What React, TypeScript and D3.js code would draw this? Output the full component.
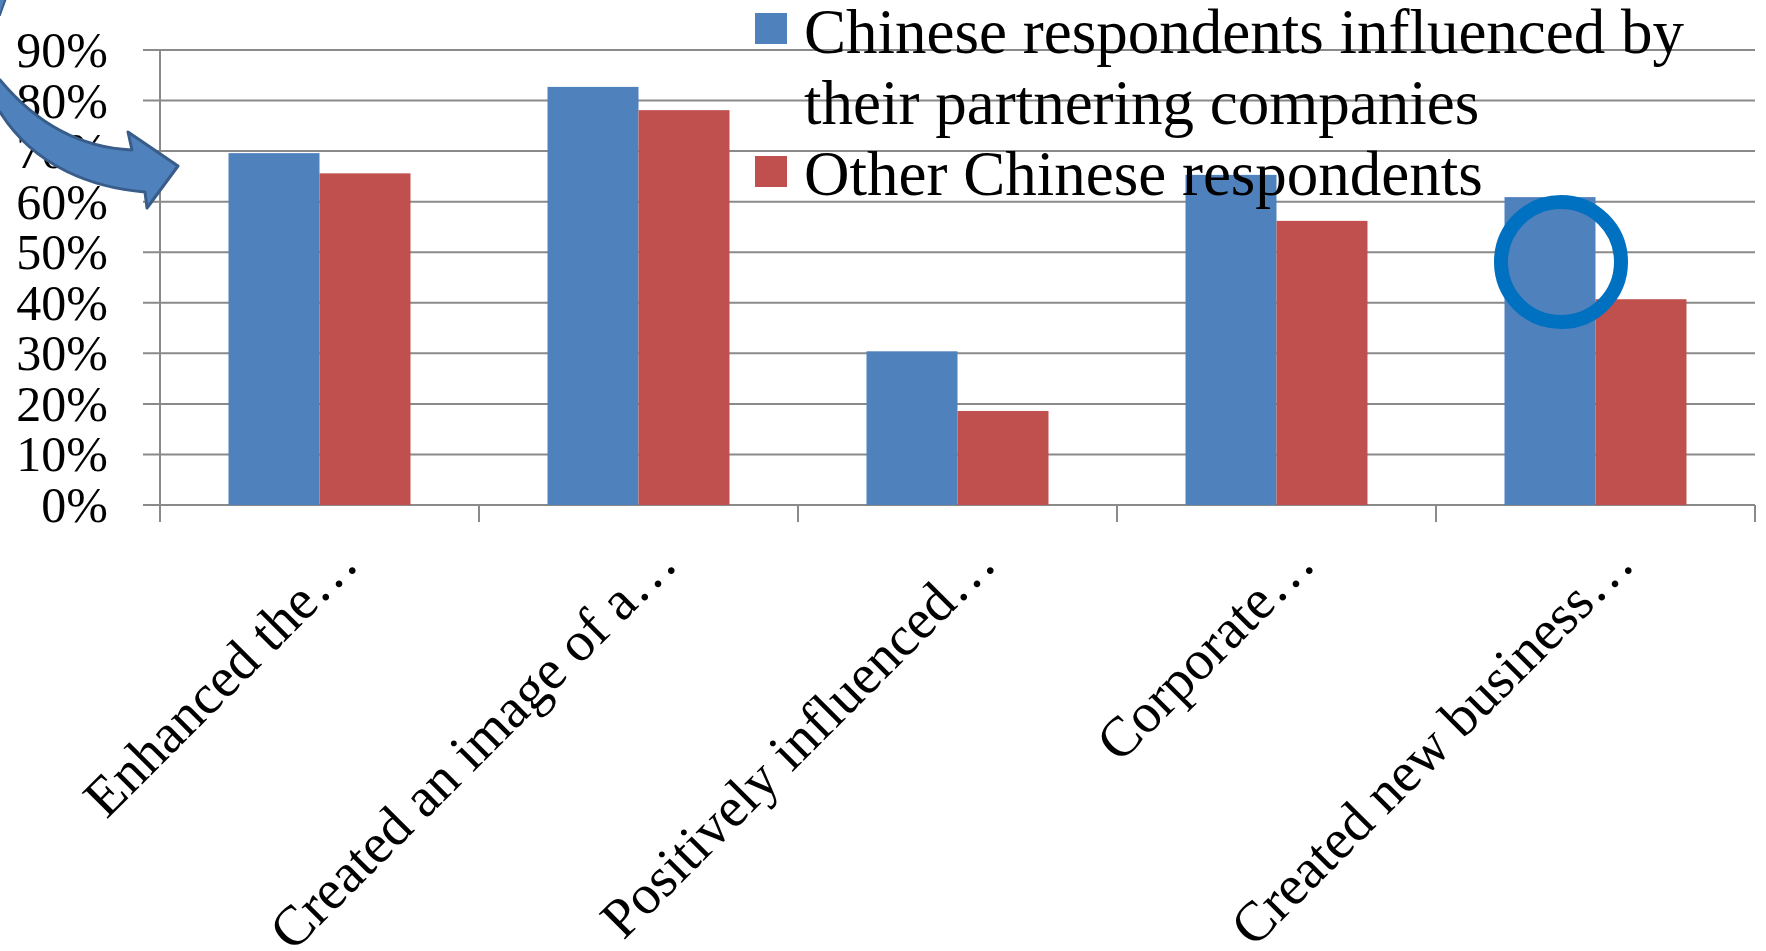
import React from "react";
import * as d3 from "d3";

const categories = [
  "Enhanced the…",
  "Created an image of a…",
  "Positively influenced…",
  "Corporate…",
  "Created new business…",
];
const seriesNames = [
  "Chinese respondents influenced by their partnering companies",
  "Other Chinese respondents",
];
const influencedValues = [0.696, 0.827, 0.304, 0.653, 0.609];
const otherValues = [0.656, 0.781, 0.186, 0.562, 0.407];
const yTicks = [0, 0.1, 0.2, 0.3, 0.4, 0.5, 0.6, 0.7, 0.8, 0.9];
const legendLines = [
  ["Chinese respondents influenced by", "their partnering companies"],
  ["Other Chinese respondents"],
];

const W = 1766;
const H = 951;
const colors = ["#4F81BD", "#C0504D"];
const FONT = "'Liberation Serif', 'Times New Roman', serif";

export default function App() {
  const left = 160;
  const right = 1755;
  const top = 50;
  const bottom = 505;

  const x = d3.scaleBand<string>().domain(categories).range([left, right]).paddingInner(0).paddingOuter(0);
  const inner = d3
    .scaleBand<string>()
    .domain(seriesNames)
    .range([0, x.bandwidth()])
    .paddingInner(0)
    .paddingOuter(0.753);
  const y = d3.scaleLinear().domain([0, 0.9]).range([bottom, top]);
  const pct = d3.format(".0%");

  const series = [influencedValues, otherValues];

  const arrowPath = [
    "M -6,76",
    "L 0,80",
    "C 40,128 85,148 132,150",
    "L 128,132",
    "L 178,166",
    "L 147,208",
    "L 145,192",
    "C 95,188 35,168 0,112",
    "L -6,112",
    "Z",
  ].join(" ");

  return (
    <svg
      width={W}
      height={H}
      style={{ position: "absolute", left: 0, top: 0, display: "block", background: "#fff" }}
      fontFamily={FONT}
    >
      <rect x={0} y={0} width={W} height={H} fill="#fff" />
      {/* gridlines */}
      {yTicks.map((t) => (
        <line
          key={"g" + t}
          x1={left - 17}
          x2={right}
          y1={y(t)}
          y2={y(t)}
          stroke="#8a8a8a"
          strokeWidth={2}
        />
      ))}
      {/* bars */}
      {categories.map((c, i) => (
        <g key={c} transform={`translate(${x(c)},0)`}>
          {series.map((vals, s) => (
            <rect
              key={s}
              x={inner(seriesNames[s])}
              y={y(vals[i])}
              width={inner.bandwidth()}
              height={y(0) - y(vals[i])}
              fill={colors[s]}
            />
          ))}
        </g>
      ))}
      {/* axes */}
      <line x1={left} x2={left} y1={top} y2={bottom + 17} stroke="#8a8a8a" strokeWidth={2} />
      {categories.map((c) => (
        <line
          key={"t" + c}
          x1={(x(c) as number) + x.bandwidth()}
          x2={(x(c) as number) + x.bandwidth()}
          y1={bottom}
          y2={bottom + 17}
          stroke="#8a8a8a"
          strokeWidth={2}
        />
      ))}
      {/* y tick labels */}
      {yTicks.map((t) => (
        <text key={"l" + t} x={108} y={y(t) + 17} textAnchor="end" fontSize={50} fill="#000">
          {pct(t)}
        </text>
      ))}
      {/* x labels */}
      {categories.map((c) => {
        const cx = (x(c) as number) + x.bandwidth() / 2 + 41;
        const cy = bottom + 61;
        return (
          <text
            key={"x" + c}
            transform={`translate(${cx},${cy}) rotate(-45)`}
            textAnchor="end"
            fontSize={56}
            fill="#000"
          >
            {c}
          </text>
        );
      })}
      {/* legend */}
      <rect x={755} y={13} width={32} height={31} fill={colors[0]} />
      <rect x={755} y={156} width={32} height={31} fill={colors[1]} />
      <text x={804} y={53} fontSize={63} fill="#000">
        {legendLines[0][0]}
      </text>
      <text x={804} y={124} fontSize={63} fill="#000">
        {legendLines[0][1]}
      </text>
      <text x={804} y={195} fontSize={63} fill="#000">
        {legendLines[1][0]}
      </text>
      {/* annotations */}
      <path d="M -2,-2 L 6,-2 C 4,4 2,9 0,15 L -2,15 Z" fill="#4F81BD" stroke="#385D8A" strokeWidth={2} />
      <path d={arrowPath} fill="#4F81BD" stroke="#385D8A" strokeWidth={3} strokeLinejoin="round" />
      <circle cx={1561} cy={262} r={60} fill="none" stroke="#0070C0" strokeWidth={14} />
    </svg>
  );
}
